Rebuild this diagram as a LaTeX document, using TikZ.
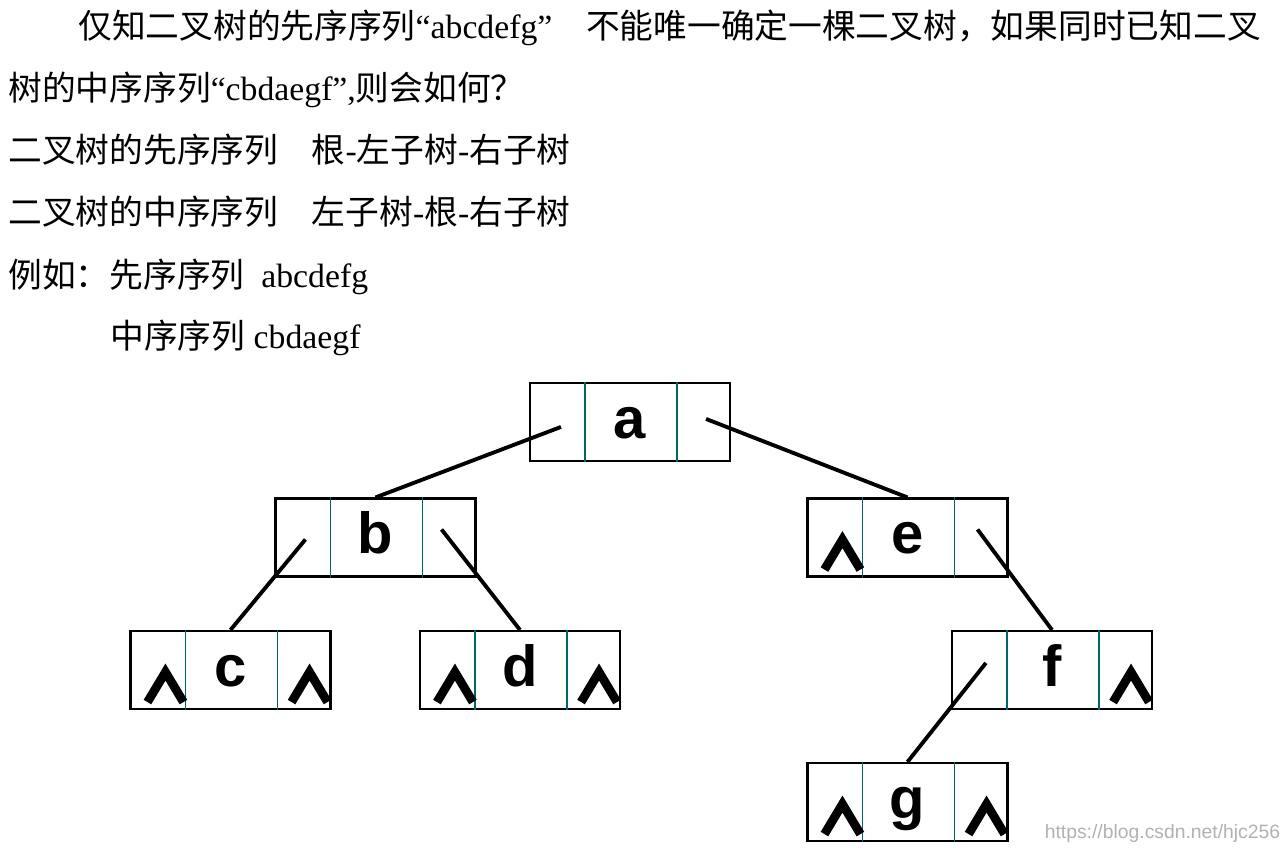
\documentclass[tikz,border=0pt]{standalone}
\usepackage{fontspec}
\setmainfont{Liberation Serif}
\newfontfamily\cjk{Noto Sans CJK SC}
\newfontfamily\arl{Liberation Sans}
\usetikzlibrary{calc}
\tikzset{
 box/.style={draw,line width=1.2pt,minimum width=200*0.02cm,minimum height=78*0.02cm,inner sep=0pt},
 lbl/.style={inner sep=0pt,anchor=base,font=\arl\bfseries\fontsize{33}{33}\selectfont},
 divider/.style={draw=teal!80!black,line width=1pt},
 conn/.style={line width=2.2pt},
 caret/.style={line width=5pt,line cap=butt,line join=miter},
 txt/.style={anchor=base west,inner sep=0pt,font=\fontsize{19.2}{21}\selectfont}
}
\newcommand\mkbox[4]{% name, cx, cy, label
 \node[box] (#1) at (#2,#3) {};
 \node[lbl] (#1l) at ($(#1.center)+(0,16)$) {#4};
 \draw[divider] ($(#1.north west)+(56,0)$) -- ($(#1.south west)+(56,0)$);
 \draw[divider] ($(#1.north east)+(-54,0)$) -- ($(#1.south east)+(-54,0)$);
}
\newcommand\caretL[1]{\draw[caret] ($(#1.south west)+(18,-8)$) -- ($(#1.south west)+(36,-38)$) -- ($(#1.south west)+(54,-8)$);}
\newcommand\caretR[1]{\draw[caret] ($(#1.south east)+(-40,-8)$) -- ($(#1.south east)+(-22,-38)$) -- ($(#1.south east)+(-4,-8)$);}
\begin{document}
\begin{tikzpicture}[x=0.02cm,y=-0.02cm]
\useasboundingbox[fill=white] (0,0) rectangle (1286,852);
\node[txt] (t1) at (78,38) {{\cjk 仅知二叉树的先序序列}“abcdefg”\quad{\cjk 不能唯一确定一棵二叉树，如果同时已知二叉}};
\node[txt] (t2) at (8,100) {{\cjk 树的中序序列}“cbdaegf”,{\cjk 则会如何？}};
\node[txt] (t3) at (8,162) {{\cjk 二叉树的先序序列}\quad{\cjk 根}-{\cjk 左子树}-{\cjk 右子树}};
\node[txt] (t4) at (8,224) {{\cjk 二叉树的中序序列}\quad{\cjk 左子树}-{\cjk 根}-{\cjk 右子树}};
\node[txt] (t5) at (8,287) {{\cjk 例如：先序序列}\ \ abcdefg};
\node[txt] (t6) at (110,348) {{\cjk 中序序列} cbdaegf};
\mkbox{a}{630}{422}{a}
\mkbox{b}{375.5}{537.5}{b}
\mkbox{e}{907.5}{537.5}{e}
\mkbox{c}{230.5}{670}{c}
\mkbox{d}{520}{670}{d}
\mkbox{f}{1052}{670}{f}
\mkbox{g}{907.5}{802}{g}
\caretL{c}\caretR{c}\caretL{d}\caretR{d}\caretL{e}\caretR{f}\caretL{g}\caretR{g}
\coordinate (a1) at ($(a.north west)+(32,45)$);
\coordinate (a2) at ($(a.north east)+(-25,37)$);
\draw[conn] (a1) -- (b.north);
\draw[conn] (a2) -- (e.north);
\coordinate (b1) at ($(b.north west)+(31,42)$);
\coordinate (b2) at ($(b.north east)+(-35,32)$);
\draw[conn] (b1) -- (c.north);
\draw[conn] (b2) -- (d.north);
\coordinate (e2) at ($(e.north east)+(-31,32)$);
\draw[conn] (e2) -- (f.north);
\coordinate (f1) at ($(f.north west)+(35,33)$);
\draw[conn] (f1) -- (g.north);
\node[anchor=south east,inner sep=2pt,text=gray!60,font=\arl\fontsize{11}{12}\selectfont] (wm) at (1284,846) {https://blog.csdn.net/hjc256};
\end{tikzpicture}
\end{document}
